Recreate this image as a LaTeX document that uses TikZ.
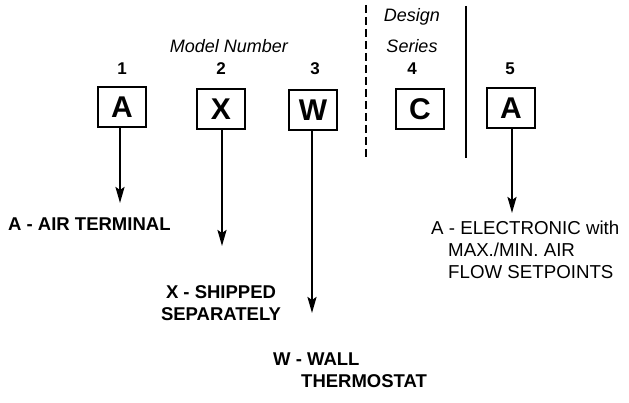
\documentclass[tikz,border=0pt]{standalone}
\usepackage{fontspec}
\setmainfont{Liberation Sans}
\usetikzlibrary{arrows.meta}
\begin{document}
\begin{tikzpicture}[x=1pt,y=-1pt,
  letterbox/.style={draw,line width=2.3pt,minimum width=48pt,minimum height=40pt,inner sep=0pt,font=\fontsize{30}{30}\selectfont\bfseries},
  digit/.style={font=\fontsize{17}{17}\selectfont\bfseries},
  ital/.style={font=\fontsize{18}{18}\selectfont\itshape},
  boldlbl/.style={font=\fontsize{18.5}{22}\selectfont\bfseries,inner sep=0pt},
  plainlbl/.style={font=\fontsize{18.7}{22}\selectfont,inner sep=0pt,align=left},
  arr/.style={line width=2.3pt,-{Stealth[length=16pt,width=9pt,inset=3pt]}}]
\useasboundingbox (0,0) rectangle (629,403);
% boxes
\node[letterbox] (b1) at (122,107) {A};
\node[letterbox] (b2) at (221,109) {X};
\node[letterbox] (b3) at (313,110) {W};
\node[letterbox] (b4) at (420,109) {C};
\node[letterbox] (b5) at (511,108) {A};
% digits
\node[digit] (n1) at (122,69) {1};
\node[digit] (n2) at (221,69) {2};
\node[digit] (n3) at (315,69) {3};
\node[digit] (n4) at (412,69) {4};
\node[digit] (n5) at (510,69) {5};
% headings
\node[ital] (mn) at (229,46) {Model Number};
\node[ital] (ds1) at (412,17) {Design};
\node[ital] (ds2) at (412,46) {Series};
% separators
\coordinate (d1) at (366,5);
\coordinate (d2) at (366,157);
\coordinate (s1) at (466,6);
\coordinate (s2) at (466,158);
\draw[line width=2.3pt,dash pattern=on 8pt off 4pt] (d1) -- (d2);
\draw[line width=2.3pt] (s1) -- (s2);
% arrow ends
\coordinate (e1) at (120,203);
\coordinate (e2) at (222,246);
\coordinate (e3) at (312,313);
\coordinate (e5) at (512,213);
\draw[arr] (b1.south -| e1) -- (e1);
\draw[arr] (b2.south -| e2) -- (e2);
\draw[arr] (b3.south -| e3) -- (e3);
\draw[arr] (b5.south -| e5) -- (e5);
% labels
\node[boldlbl,anchor=west] (l1) at (8,224) {A - AIR TERMINAL};
\node[boldlbl,align=center] (l2) at (221,303) {X - SHIPPED\\SEPARATELY};
\node[boldlbl,anchor=west] (l3a) at (273,359) {W - WALL};
\node[boldlbl,anchor=west] (l3b) at (301,381) {THERMOSTAT};
\node[plainlbl,anchor=north west] (l5) at (431,221) {A - ELECTRONIC with\\\hspace{17pt}MAX./MIN. AIR\\\hspace{17pt}FLOW SETPOINTS};
\end{tikzpicture}
\end{document}
